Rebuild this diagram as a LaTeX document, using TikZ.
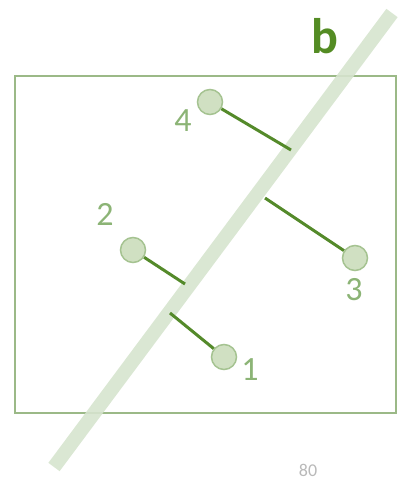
\documentclass[tikz,border=0pt]{standalone}
\usepackage{fontspec}
\setmainfont{Carlito}
\usetikzlibrary{positioning}
\definecolor{bandgreen}{RGB}{214,228,206}
\definecolor{boxgreen}{RGB}{155,185,135}
\definecolor{ptfill}{RGB}{208,224,194}
\definecolor{ptedge}{RGB}{165,195,145}
\definecolor{projgreen}{RGB}{84,138,42}
\definecolor{numgreen}{RGB}{140,180,118}
\definecolor{bgreen}{RGB}{84,140,36}

\begin{document}
\begin{tikzpicture}[x=1pt,y=-1pt,
  point/.style={circle, draw=ptedge, fill=ptfill, line width=1.5pt, minimum size=25pt, inner sep=0pt},
  proj/.style={draw=projgreen, line width=3pt},
  num/.style={text=numgreen, inner sep=0pt, font=\fontsize{34}{34}\selectfont}]
\useasboundingbox (0,0) rectangle (411,483);
% frame and the line b
\draw[boxgreen, line width=2pt] (15,76) rectangle (396,413);
\coordinate (btop) at (392,13);
\coordinate (bbottom) at (54,467);
\draw[bandgreen, line width=14pt, opacity=0.9] (bbottom) -- (btop);
\node[text=bgreen, inner sep=0pt, font=\bfseries\fontsize{50}{50}\selectfont] (b) at (325,36) {b};
% points
\node[point] (p4) at (210,102) {};
\node[point] (p3) at (355,258) {};
\node[point] (p2) at (133,250) {};
\node[point] (p1) at (224,357) {};
% feet on the band
\coordinate (f4) at (291,150);
\coordinate (f3) at (265,198);
\coordinate (f2) at (185,284);
\coordinate (f1) at (170,313);
\draw[proj] (p4) -- (f4);
\draw[proj] (p3) -- (f3);
\draw[proj] (p2) -- (f2);
\draw[proj] (p1) -- (f1);
% numbers
\node[num] (n4) at (183,121) {4};
\node[num] (n3) at (354,290) {3};
\node[num] (n2) at (105,214) {2};
\node[num] (n1) at (250,370) {1};
\node[text=gray!55, anchor=base, inner sep=0pt, font=\fontsize{18}{18}\selectfont] (page) at (308,476) {80};
\end{tikzpicture}
\end{document}
